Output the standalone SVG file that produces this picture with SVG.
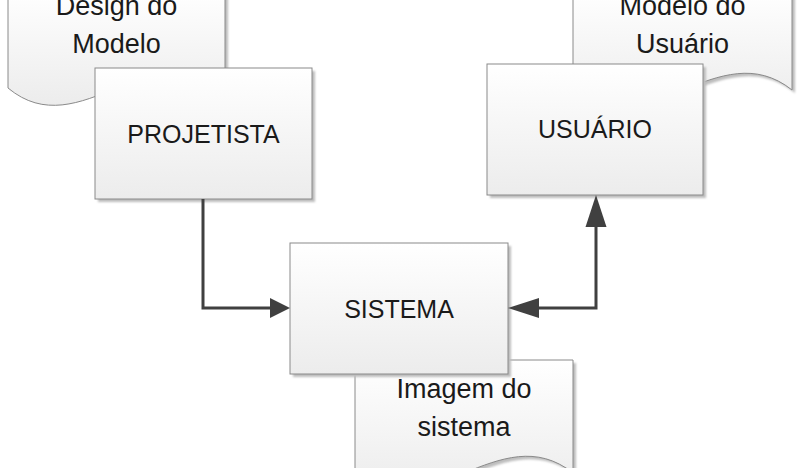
<svg xmlns="http://www.w3.org/2000/svg" width="807" height="468" viewBox="0 0 807 468">
<defs>
<linearGradient id="g" x1="0" y1="0" x2="0" y2="1">
<stop offset="0" stop-color="#ffffff"/>
<stop offset="1" stop-color="#ececec"/>
</linearGradient>
<filter id="blur" x="-10%" y="-10%" width="120%" height="120%"><feGaussianBlur stdDeviation="1"/></filter>
</defs>
<style>
.shape{fill:url(#g);stroke:#8a8a8a;stroke-width:1}
.shadow{fill:#bdbdbd;filter:url(#blur)}
.lbl{font-family:"Liberation Sans",Arial,sans-serif;font-size:25px;fill:#1a1a1a;text-anchor:middle}
.doc{font-family:"Liberation Sans",Arial,sans-serif;font-size:27px;fill:#1a1a1a;text-anchor:middle}
.conn{fill:none;stroke:#404040;stroke-width:3}
.head{fill:#404040}
</style>
<g id="doc-design">
<path class="shadow" transform="translate(3,3)" d="M8,-10 H225 V88 C153,148 80,28 8,88 Z"/>
<path class="shape" d="M8,-10 H225 V88 C153,28 80,148 8,88 Z"/>
<text class="doc" x="116.5" y="15">Design do</text>
<text class="doc" x="116.5" y="53">Modelo</text>
</g>
<g id="doc-modelo">
<path class="shadow" transform="translate(3,3)" d="M573,-10 H792 V90 C719,32 646,148 573,90 Z"/>
<path class="shape" d="M573,-10 H792 V90 C719,32 646,148 573,90 Z"/>
<text class="doc" x="682.5" y="15">Modelo do</text>
<text class="doc" x="682.5" y="53">Usuário</text>
</g>
<g id="doc-imagem">
<path class="shadow" transform="translate(3,3)" d="M355,360 H573 V473 C500,415 428,531 355,473 Z"/>
<path class="shape" d="M355,360 H573 V473 C500,415 428,531 355,473 Z"/>
<text class="doc" x="464" y="398">Imagem do</text>
<text class="doc" x="464" y="436">sistema</text>
</g>
<g id="projetista">
<rect class="shadow" x="98" y="71" width="217" height="131"/>
<rect class="shape" x="95" y="68" width="217" height="131"/>
<text class="lbl" x="203.5" y="143">PROJETISTA</text>
</g>
<g id="usuario">
<rect class="shadow" x="490" y="67" width="216" height="131"/>
<rect class="shape" x="487" y="64" width="216" height="131"/>
<text class="lbl" x="595" y="138">USUÁRIO</text>
</g>
<g id="sistema">
<rect class="shadow" x="293" y="246" width="218" height="131"/>
<rect class="shape" x="290" y="243" width="218" height="131"/>
<text class="lbl" x="399" y="318">SISTEMA</text>
</g>
<g id="connectors">
<path class="conn" d="M203,199 V308 H272"/>
<polygon class="head" points="290,308 270,298 270,318"/>
<path class="conn" d="M538,308 H596 V225"/>
<polygon class="head" points="508,308 539,298 539,318"/>
<polygon class="head" points="596,195 585.5,227 606.5,227"/>
</g>
</svg>
